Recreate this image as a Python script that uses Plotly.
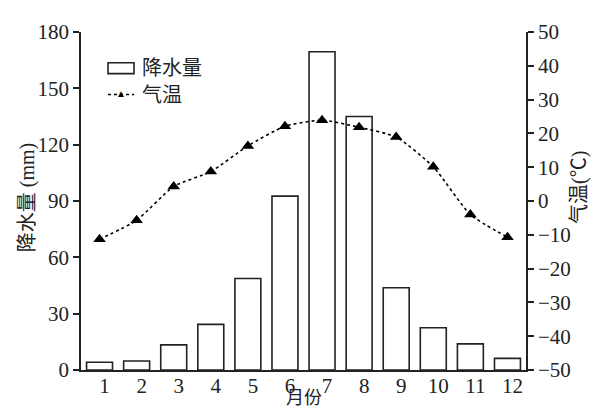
import plotly.graph_objects as go

months = [1, 2, 3, 4, 5, 6, 7, 8, 9, 10, 11, 12]
month_labels = ["1", "2", "3", "4", "5", "6", "7", "8", "9", "10", "11", "12"]
precip_mm = [4.1, 4.8, 13.4, 24.3, 48.7, 92.6, 169.5, 135.0, 43.8, 22.5, 13.9, 6.2]
temp_c = [-11.3, -5.7, 4.3, 8.7, 16.3, 22.1, 23.9, 21.8, 18.9, 10.1, -4.0, -10.7]

FONT = "Liberation Serif, Times New Roman, Noto Sans CJK SC, serif"
INK = "#222222"

fig = go.Figure()
fig.add_trace(go.Bar(
    x=months, y=precip_mm, name="降水量", width=0.7,
    marker=dict(color="white", line=dict(color=INK, width=1.6)),
    yaxis="y", showlegend=False,
))
fig.add_trace(go.Scatter(
    x=months, y=temp_c, name="气温", mode="lines+markers",
    line=dict(color="black", width=1.6, dash="dot", shape="spline", smoothing=0.6),
    marker=dict(symbol="triangle-up", size=11, color="black"),
    yaxis="y2", showlegend=False,
))

fig.update_layout(
    width=600, height=408,
    margin=dict(l=73, r=82, t=21, b=46),
    paper_bgcolor="white", plot_bgcolor="white",
    font=dict(family=FONT, size=21, color=INK),
    xaxis=dict(
        range=[0.5, 12.5], tickmode="array", tickvals=months, ticktext=month_labels,
        showgrid=False, zeroline=False, showline=True, linecolor=INK, linewidth=1.6,
        ticks="", ticklabelshift=5, ticklabelstandoff=-4, tickfont=dict(size=21),
    ),
    yaxis=dict(
        range=[0, 180], tickmode="linear", tick0=0, dtick=30,
        showgrid=False, zeroline=False, showline=True, linecolor=INK, linewidth=1.6,
        ticks="outside", ticklen=6, tickwidth=1.6, tickcolor=INK, tickfont=dict(size=21),
    ),
    yaxis2=dict(
        range=[-50, 50], tickmode="linear", tick0=-50, dtick=10, overlaying="y", side="right",
        showgrid=False, zeroline=False, showline=True, linecolor=INK, linewidth=1.6,
        ticks="outside", ticklen=6, tickwidth=1.6, tickcolor=INK, tickfont=dict(size=21),
    ),
    bargap=0.3,
)

# axis titles
fig.add_annotation(text="降水量 (mm)", xref="paper", yref="paper", x=-0.12, y=0.51,
                   textangle=-90, showarrow=False, font=dict(size=20, family=FONT),
                   xanchor="center", yanchor="middle")
fig.add_annotation(text="气温(℃)", xref="paper", yref="paper", x=1.12, y=0.54,
                   textangle=-90, showarrow=False, font=dict(size=20, family=FONT),
                   xanchor="center", yanchor="middle")
fig.add_annotation(text="月份", xref="paper", yref="paper", x=0.5, y=(362 - 390) / 341,
                   showarrow=False, font=dict(size=18, family=FONT),
                   xanchor="center", yanchor="middle")

# manual legend
fig.add_shape(type="rect", xref="paper", yref="paper",
              x0=(100 - 73) / 445, x1=(126 - 73) / 445,
              y0=(362 - 63) / 341, y1=(362 - 52) / 341,
              line=dict(color=INK, width=1.6), fillcolor="white")
fig.add_annotation(text="降水量", xref="paper", yref="paper", x=(132 - 73) / 445, y=(362 - 57) / 341,
                   showarrow=False, xanchor="left", yanchor="middle", font=dict(size=20, family=FONT))
fig.add_shape(type="line", xref="paper", yref="paper",
              x0=(100 - 73) / 445, x1=(126 - 73) / 445,
              y0=(362 - 84) / 341, y1=(362 - 84) / 341,
              line=dict(color="black", width=1.6, dash="dot"))
fig.add_annotation(text="▲", xref="paper", yref="paper", x=(113 - 73) / 445, y=(362 - 83) / 341,
                   showarrow=False, xanchor="center", yanchor="middle", font=dict(size=10, color="black"))
fig.add_annotation(text="气温", xref="paper", yref="paper", x=(132 - 73) / 445, y=(362 - 85) / 341,
                   showarrow=False, xanchor="left", yanchor="middle", font=dict(size=20, family=FONT))

fig.write_html("out.html")
